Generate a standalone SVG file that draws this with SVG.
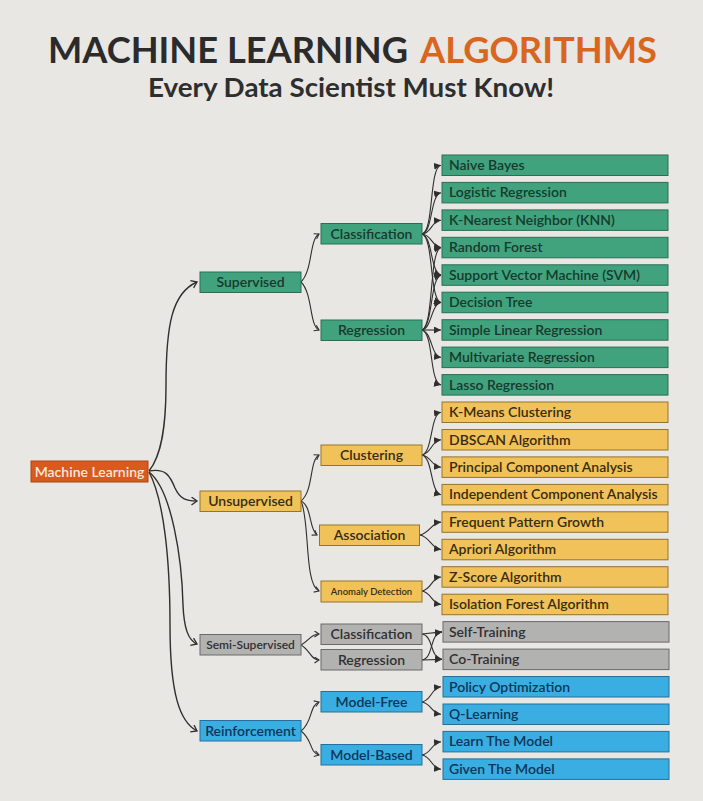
<svg xmlns="http://www.w3.org/2000/svg" width="703" height="801" viewBox="0 0 703 801">
  <defs>
    <style>
      .bg { fill: #e8e7e3; }
      .t { font-family: Lato, "Open Sans", "DejaVu Sans", sans-serif; font-weight: 600; }
      .title { font-family: Lato, "Open Sans", sans-serif; font-weight: 700; font-size: 36px; }
      .sub { font-family: Lato, "Open Sans", sans-serif; font-weight: 700; font-size: 27px; fill: #2e2e2e; }
      .box { stroke-width: 1; }
      .g rect { fill: #41a27e; stroke: #2b6e55; }
      .g text { fill: #163a2c; }
      .y rect { fill: #f1c25a; stroke: #94742a; }
      .y text { fill: #382c10; }
      .s rect { fill: #b2b2b0; stroke: #6a6a6a; }
      .s text { fill: #303030; }
      .b rect { fill: #3aade2; stroke: #24709a; }
      .b text { fill: #0c3758; }
      .o rect { fill: #d85a1f; stroke: #a9451a; }
      .o text { fill: #f7e8dc; }
      .mid { font-size: 14px; text-anchor: middle; }
      .leaf { font-size: 14px; }
      .c1 { fill: none; stroke: #2f2f2f; stroke-width: 1.4; marker-end: url(#chev); }
      .c2 { fill: none; stroke: #2f2f2f; stroke-width: 1.1; marker-end: url(#chev2); }
      .c3 { fill: none; stroke: #2f2f2f; stroke-width: 1.1; marker-end: url(#tri); }
    </style>
    <marker id="tri" markerUnits="userSpaceOnUse" markerWidth="8" markerHeight="8" refX="7" refY="3.5" orient="auto">
      <path d="M0,0 L7,3.5 L0,7 z" fill="#2f2f2f"/>
    </marker>
    <marker id="chev" markerUnits="userSpaceOnUse" markerWidth="10" markerHeight="10" refX="6" refY="4.5" orient="auto">
      <path d="M0.5,0.5 L6,4.5 L0.5,8.5" fill="none" stroke="#2f2f2f" stroke-width="1.3"/>
    </marker>
    <marker id="chev2" markerUnits="userSpaceOnUse" markerWidth="8" markerHeight="8" refX="5" refY="3.5" orient="auto">
      <path d="M0.5,0.5 L5,3.5 L0.5,6.5" fill="none" stroke="#2f2f2f" stroke-width="1.1"/>
    </marker>
  </defs>

  <rect class="bg" x="0" y="0" width="703" height="801"/>

  <!-- heading -->
  <g id="heading">
    <text class="title" x="48" y="63" fill="#2b2b2b" textLength="360" lengthAdjust="spacingAndGlyphs">MACHINE LEARNING</text>
    <text class="title" x="420" y="63" fill="#d9661f" textLength="237" lengthAdjust="spacingAndGlyphs">ALGORITHMS</text>
    <text class="sub" x="148" y="97" textLength="406" lengthAdjust="spacingAndGlyphs">Every Data Scientist Must Know!</text>
  </g>

  <!-- connectors -->
  <g id="connectors">
    <!-- root to categories -->
    <path class="c1" d="M149,471 C162,455 166,425 166,385 C166,325 172,293 197,282"/>
    <path class="c1" d="M149,471 C166,468 170,476 175,488 C180,499 186,501 197,501"/>
    <path class="c1" d="M149,472 C172,490 182,560 183,605 C184,628 188,640 197,644"/>
    <path class="c1" d="M149,472 C164,500 170,560 170,625 C170,695 180,722 197,731"/>

    <!-- categories to sub-types -->
    <path class="c2" d="M301,282 C313,270 309,240 319,234"/>
    <path class="c2" d="M301,282 C313,294 309,325 319,330"/>
    <path class="c2" d="M301,501 C314,490 309,461 319,455"/>
    <path class="c2" d="M301,501 C312,506 309,530 317,535"/>
    <path class="c2" d="M301,501 C310,520 304,585 319,591"/>
    <path class="c2" d="M301,645 C310,640 311,634 319,634"/>
    <path class="c2" d="M301,645 C310,650 311,660 319,660"/>
    <path class="c2" d="M301,731 C313,722 309,706 319,702"/>
    <path class="c2" d="M301,731 C313,740 309,752 319,755"/>

    <!-- supervised classification -->
    <path class="c3" d="M422,234 C434,232 429,167 441,165.3"/>
    <path class="c3" d="M422,234 C433,232 430,195 441,192.7"/>
    <path class="c3" d="M422,234 C432,233 431,221 441,220.2"/>
    <path class="c3" d="M422,234 C432,235 431,246 441,247.6"/>
    <path class="c3" d="M422,234 C433,237 430,272 441,275.1"/>
    <path class="c3" d="M422,234 C434,238 429,299 441,302.5"/>
    <!-- supervised regression -->
    <path class="c3" d="M422,330 C434,326 429,250 441,247.6"/>
    <path class="c3" d="M422,330 C433,326 430,278 441,275.1"/>
    <path class="c3" d="M422,330 C432,328 431,304 441,302.5"/>
    <path class="c3" d="M422,330 L441,330"/>
    <path class="c3" d="M422,330 C432,332 431,356 441,357.4"/>
    <path class="c3" d="M422,330 C434,334 429,382 441,384.9"/>
    <!-- clustering -->
    <path class="c3" d="M422,455 C433,452 430,414 441,412.3"/>
    <path class="c3" d="M422,455 C432,453 431,441 441,439.8"/>
    <path class="c3" d="M422,455 C432,457 431,466 441,467.2"/>
    <path class="c3" d="M422,455 C433,458 430,492 441,494.7"/>
    <!-- association -->
    <path class="c3" d="M420,535 C430,533 431,523 441,522.1"/>
    <path class="c3" d="M420,535 C430,537 431,548 441,549.6"/>
    <!-- anomaly detection -->
    <path class="c3" d="M422,591 C432,589 431,578 441,577"/>
    <path class="c3" d="M422,591 C432,593 431,603 441,604.5"/>
    <!-- semi-supervised -->
    <path class="c3" d="M422,634 L442,631.9"/>
    <path class="c3" d="M422,634 C434,636 429,657 442,659.4"/>
    <path class="c3" d="M422,660 L442,659.4"/>
    <path class="c3" d="M422,660 C434,658 429,634 442,631.9"/>
    <!-- reinforcement -->
    <path class="c3" d="M422,702 C432,700 431,688 441,686.8"/>
    <path class="c3" d="M422,702 C432,704 431,713 441,714.3"/>
    <path class="c3" d="M422,755 C432,753 431,743 441,741.7"/>
    <path class="c3" d="M422,755 C432,757 431,768 441,769.2"/>
  </g>

  <!-- root -->
  <g id="machine-learning" class="o t">
    <rect class="box" x="31" y="461" width="117" height="21"/>
    <text class="mid" x="89.5" y="476.5">Machine Learning</text>
  </g>

  <!-- categories -->
  <g id="supervised" class="g t">
    <rect class="box" x="200" y="272" width="101" height="20.5"/>
    <text class="mid" x="250.5" y="287">Supervised</text>
  </g>
  <g id="unsupervised" class="y t">
    <rect class="box" x="200" y="491" width="101" height="20.5"/>
    <text class="mid" x="250.5" y="506">Unsupervised</text>
  </g>
  <g id="semi-supervised" class="s t">
    <rect class="box" x="200" y="634.5" width="101" height="20.5"/>
    <text class="mid" x="250.5" y="649" style="font-size:12px">Semi-Supervised</text>
  </g>
  <g id="reinforcement" class="b t">
    <rect class="box" x="200" y="720.5" width="101" height="20.5"/>
    <text class="mid" x="250.5" y="735.5">Reinforcement</text>
  </g>

  <!-- sub-types -->
  <g id="sup-classification" class="g t">
    <rect class="box" x="321" y="223.5" width="101" height="20.5"/>
    <text class="mid" x="371.5" y="238.5">Classification</text>
  </g>
  <g id="sup-regression" class="g t">
    <rect class="box" x="321" y="320" width="101" height="20.5"/>
    <text class="mid" x="371.5" y="335">Regression</text>
  </g>
  <g id="clustering" class="y t">
    <rect class="box" x="321" y="445" width="101" height="20.5"/>
    <text class="mid" x="371.5" y="460">Clustering</text>
  </g>
  <g id="association" class="y t">
    <rect class="box" x="319.5" y="525" width="100" height="20.5"/>
    <text class="mid" x="369.5" y="540">Association</text>
  </g>
  <g id="anomaly-detection" class="y t">
    <rect class="box" x="321" y="581" width="101" height="21"/>
    <text class="mid" x="371.5" y="595" style="font-size:9.5px">Anomaly Detection</text>
  </g>
  <g id="semi-classification" class="s t">
    <rect class="box" x="321" y="624" width="101" height="20.5"/>
    <text class="mid" x="371.5" y="639">Classification</text>
  </g>
  <g id="semi-regression" class="s t">
    <rect class="box" x="321" y="649.5" width="101" height="20.5"/>
    <text class="mid" x="371.5" y="664.5">Regression</text>
  </g>
  <g id="model-free" class="b t">
    <rect class="box" x="321" y="691.5" width="101" height="20.5"/>
    <text class="mid" x="371.5" y="706.5">Model-Free</text>
  </g>
  <g id="model-based" class="b t">
    <rect class="box" x="321" y="744.5" width="101" height="20.5"/>
    <text class="mid" x="371.5" y="759.5">Model-Based</text>
  </g>

  <!-- algorithms -->
  <g id="naive-bayes" class="g t"><rect class="box" x="442" y="155" width="226" height="20.5"/><text class="leaf" x="449" y="170">Naive Bayes</text></g>
  <g id="logistic-regression" class="g t"><rect class="box" x="442" y="182.4" width="226" height="20.5"/><text class="leaf" x="449" y="197.4">Logistic Regression</text></g>
  <g id="knn" class="g t"><rect class="box" x="442" y="209.9" width="226" height="20.5"/><text class="leaf" x="449" y="224.9">K-Nearest Neighbor (KNN)</text></g>
  <g id="random-forest" class="g t"><rect class="box" x="442" y="237.3" width="226" height="20.5"/><text class="leaf" x="449" y="252.3">Random Forest</text></g>
  <g id="svm" class="g t"><rect class="box" x="442" y="264.8" width="226" height="20.5"/><text class="leaf" x="449" y="279.8">Support Vector Machine (SVM)</text></g>
  <g id="decision-tree" class="g t"><rect class="box" x="442" y="292.2" width="226" height="20.5"/><text class="leaf" x="449" y="307.2">Decision Tree</text></g>
  <g id="simple-linear-regression" class="g t"><rect class="box" x="442" y="319.7" width="226" height="20.5"/><text class="leaf" x="449" y="334.7">Simple Linear Regression</text></g>
  <g id="multivariate-regression" class="g t"><rect class="box" x="442" y="347.1" width="226" height="20.5"/><text class="leaf" x="449" y="362.1">Multivariate Regression</text></g>
  <g id="lasso-regression" class="g t"><rect class="box" x="442" y="374.6" width="226" height="20.5"/><text class="leaf" x="449" y="389.6">Lasso Regression</text></g>

  <g id="k-means" class="y t"><rect class="box" x="442" y="402" width="226" height="20.5"/><text class="leaf" x="449" y="417">K-Means Clustering</text></g>
  <g id="dbscan" class="y t"><rect class="box" x="442" y="429.5" width="226" height="20.5"/><text class="leaf" x="449" y="444.5">DBSCAN Algorithm</text></g>
  <g id="pca" class="y t"><rect class="box" x="442" y="456.9" width="226" height="20.5"/><text class="leaf" x="449" y="471.9">Principal Component Analysis</text></g>
  <g id="ica" class="y t"><rect class="box" x="442" y="484.4" width="226" height="20.5"/><text class="leaf" x="449" y="499.4">Independent Component Analysis</text></g>
  <g id="fp-growth" class="y t"><rect class="box" x="442" y="511.8" width="226" height="20.5"/><text class="leaf" x="449" y="526.8">Frequent Pattern Growth</text></g>
  <g id="apriori" class="y t"><rect class="box" x="442" y="539.3" width="226" height="20.5"/><text class="leaf" x="449" y="554.3">Apriori Algorithm</text></g>
  <g id="z-score" class="y t"><rect class="box" x="442" y="566.7" width="226" height="20.5"/><text class="leaf" x="449" y="581.7">Z-Score Algorithm</text></g>
  <g id="isolation-forest" class="y t"><rect class="box" x="442" y="594.2" width="226" height="20.5"/><text class="leaf" x="449" y="609.2">Isolation Forest Algorithm</text></g>

  <g id="self-training" class="s t"><rect class="box" x="443" y="621.6" width="226" height="20.5"/><text class="leaf" x="449" y="636.6">Self-Training</text></g>
  <g id="co-training" class="s t"><rect class="box" x="443" y="649.1" width="226" height="20.5"/><text class="leaf" x="449" y="664.1">Co-Training</text></g>

  <g id="policy-optimization" class="b t"><rect class="box" x="443" y="676.5" width="226" height="20.5"/><text class="leaf" x="449" y="691.5">Policy Optimization</text></g>
  <g id="q-learning" class="b t"><rect class="box" x="443" y="704" width="226" height="20.5"/><text class="leaf" x="449" y="719">Q-Learning</text></g>
  <g id="learn-the-model" class="b t"><rect class="box" x="443" y="731.4" width="226" height="20.5"/><text class="leaf" x="449" y="746.4">Learn The Model</text></g>
  <g id="given-the-model" class="b t"><rect class="box" x="443" y="758.9" width="226" height="20.5"/><text class="leaf" x="449" y="773.9">Given The Model</text></g>
</svg>
